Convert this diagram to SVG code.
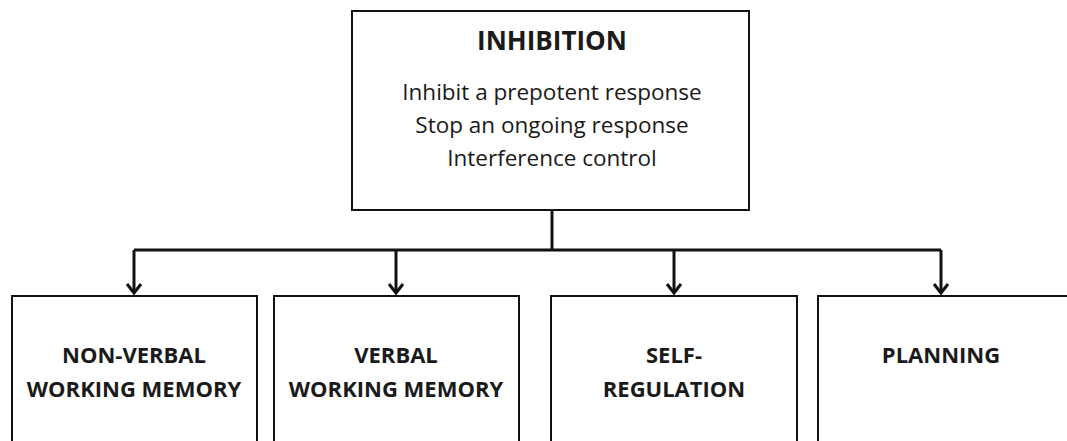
<svg xmlns="http://www.w3.org/2000/svg" width="1067" height="441" viewBox="0 0 1067 441">
<style>
.box{fill:#fff;stroke:#111;stroke-width:2}
.t{font-family:"Open Sans","Liberation Sans",sans-serif;fill:#1a1a1a;text-anchor:middle}
.b{font-weight:bold;font-size:22px}
.r{font-size:22.5px}
.c{fill:none;stroke:#111;stroke-width:3}
</style>
<defs>
<marker id="ah" markerWidth="16" markerHeight="16" refX="13" refY="8" orient="auto" markerUnits="userSpaceOnUse" viewBox="0 0 16 16">
<polyline points="4,1 13,8 4,15" fill="none" stroke="#111" stroke-width="3"/>
</marker>
</defs>
<rect width="1067" height="441" fill="#fff"/>
<g id="inhibition">
<rect class="box" x="352" y="11" width="397" height="199"/>
<text class="t b" x="552" y="50" style="font-size:26px">INHIBITION</text>
<text class="t r" x="552" y="100">Inhibit a prepotent response</text>
<text class="t r" x="552" y="133">Stop an ongoing response</text>
<text class="t r" x="552" y="166">Interference control</text>
</g>
<g id="nonverbal">
<rect class="box" x="12" y="296" width="245" height="160"/>
<text class="t b" x="134" y="363">NON-VERBAL</text>
<text class="t b" x="134" y="397">WORKING MEMORY</text>
</g>
<g id="verbal">
<rect class="box" x="274" y="296" width="245" height="160"/>
<text class="t b" x="396" y="363">VERBAL</text>
<text class="t b" x="396" y="397">WORKING MEMORY</text>
</g>
<g id="selfreg">
<rect class="box" x="551" y="296" width="246" height="160"/>
<text class="t b" x="674" y="363">SELF-</text>
<text class="t b" x="674" y="397">REGULATION</text>
</g>
<g id="planning">
<rect class="box" x="818" y="296" width="260" height="160"/>
<text class="t b" x="941" y="363">PLANNING</text>
</g>
<g id="connectors">
<polyline class="c" points="552,210 552,250"/>
<polyline class="c" points="134,250 941,250"/>
<polyline class="c" points="134,250 134,293" marker-end="url(#ah)"/>
<polyline class="c" points="396,250 396,293" marker-end="url(#ah)"/>
<polyline class="c" points="674,250 674,293" marker-end="url(#ah)"/>
<polyline class="c" points="941,250 941,293" marker-end="url(#ah)"/>
</g>
</svg>
